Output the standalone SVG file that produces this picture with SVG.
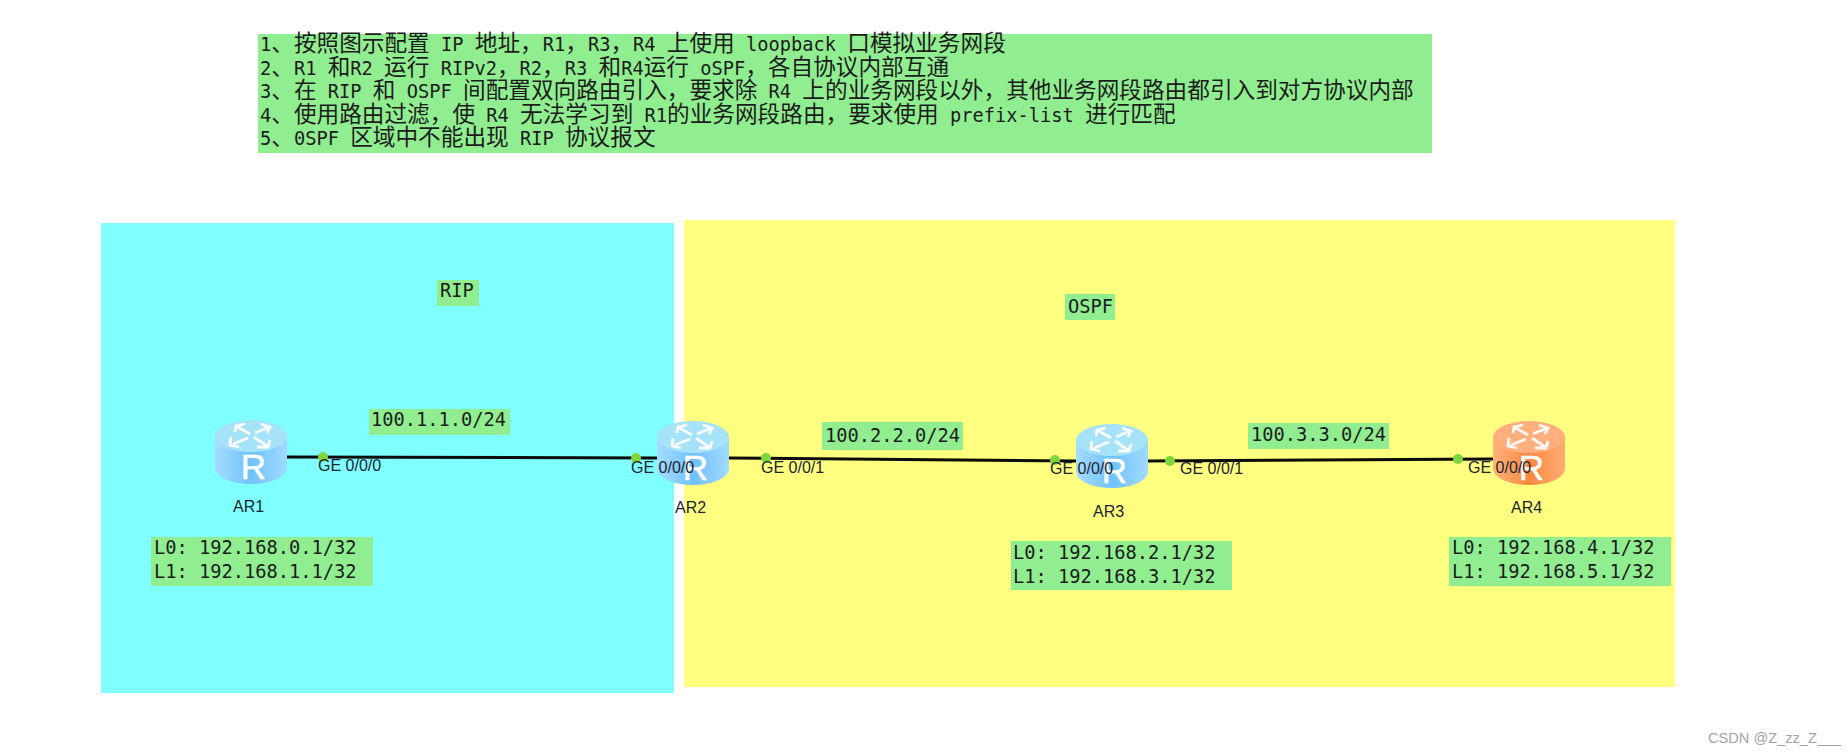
<svg xmlns="http://www.w3.org/2000/svg" width="1846" height="754" viewBox="0 0 1846 754">
<style>
.m{font-family:"DejaVu Sans Mono","Liberation Mono",monospace;fill:#1c1c1c}
.top{font-size:18.7px}
.c{font-family:"Noto Sans CJK SC","DejaVu Sans",sans-serif;font-size:22.65px}
.lb{font-size:18.7px}
.s{font-family:"Liberation Sans",Arial,sans-serif;font-size:16px;fill:#1c2430}
.g{fill:#90ee90}
.dot{fill:#7ed53c}
.lnk{stroke:#0c0c0c;stroke-width:3;fill:none}
.rr{font-family:"Liberation Sans",Arial,sans-serif;font-size:35px;fill:#fff;text-anchor:middle;stroke:#fff;stroke-width:.5}
.wm{font-family:"Liberation Sans",Arial,sans-serif;font-size:14.6px;fill:#a3a3a3}
</style>
<defs>
<linearGradient id="bb" x1="0" x2="1" y1="0" y2="0">
<stop offset="0" stop-color="#a6dcff"/><stop offset="0.5" stop-color="#6fc2fb"/><stop offset="1" stop-color="#a2daff"/>
</linearGradient>
<linearGradient id="ob" x1="0" x2="1" y1="0" y2="0">
<stop offset="0" stop-color="#ffb27c"/><stop offset="0.5" stop-color="#f9893f"/><stop offset="1" stop-color="#ffad74"/>
</linearGradient>
<g id="arrows" fill="none" stroke="#fff" stroke-width="2.8" opacity=".92">
<path d="M21,6 L35,14 M20,12 L21,6 L30,4"/>
<path d="M40,13 L54,7 M46,4 L55,7 L52,13"/>
<path d="M33,18 L18,24 M16,17 L15,25 L24,27"/>
<path d="M39,17 L52,26 M42,27 L53,27 L55,20"/>
</g>
<g id="rb">
<path d="M0,16 V48 A36,16 0 0 0 72,48 V16 Z" fill="url(#bb)"/>
<ellipse cx="36" cy="16" rx="36" ry="16" fill="#a6e2f8"/>
<use href="#arrows"/>
<text class="rr" x="38.5" y="59">R</text>
</g>
<g id="ro">
<path d="M0,16 V48 A36,16 0 0 0 72,48 V16 Z" fill="url(#ob)"/>
<ellipse cx="36" cy="16" rx="36" ry="16" fill="#ffae7e"/>
<use href="#arrows"/>
<text class="rr" x="38.5" y="59">R</text>
</g>
</defs>
<rect width="1846" height="754" fill="#fff"/>
<g id="region-rip"><rect x="101" y="223" width="573" height="470" fill="#80ffff"/></g>
<g id="region-ospf"><rect x="684" y="220" width="991" height="467" fill="#ffff80"/></g>
<g id="task-note">
<rect class="g" x="258" y="34" width="1174" height="119"/>
<text xml:space="preserve" class="m top" x="260" y="51">1<tspan class="c">、按照图示配置</tspan> IP <tspan class="c">地址，</tspan>R1<tspan class="c">，</tspan>R3<tspan class="c">，</tspan>R4 <tspan class="c">上使用</tspan> loopback <tspan class="c">口模拟业务网段</tspan></text>
<text xml:space="preserve" class="m top" x="260" y="75">2<tspan class="c">、</tspan>R1 <tspan class="c">和</tspan>R2 <tspan class="c">运行</tspan> RIPv2<tspan class="c">，</tspan>R2<tspan class="c">，</tspan>R3 <tspan class="c">和</tspan>R4<tspan class="c">运行</tspan> oSPF<tspan class="c">，各自协议内部互通</tspan></text>
<text xml:space="preserve" class="m top" x="260" y="98">3<tspan class="c">、在</tspan> RIP <tspan class="c">和</tspan> OSPF <tspan class="c">间配置双向路由引入，要求除</tspan> R4 <tspan class="c">上的业务网段以外，其他业务网段路由都引入到对方协议内部</tspan></text>
<text xml:space="preserve" class="m top" x="260" y="122">4<tspan class="c">、使用路由过滤，使</tspan> R4 <tspan class="c">无法学习到</tspan> R1<tspan class="c">的业务网段路由，要求使用</tspan> prefix-list <tspan class="c">进行匹配</tspan></text>
<text xml:space="preserve" class="m top" x="260" y="145">5<tspan class="c">、</tspan>0SPF <tspan class="c">区域中不能出现</tspan> RIP <tspan class="c">协议报文</tspan></text>
</g>
<g id="label-rip"><rect class="g" x="437" y="280" width="42" height="26"/><text class="m top" x="440" y="297">RIP</text></g>
<g id="label-ospf"><rect class="g" x="1065" y="294" width="50" height="26"/><text class="m top" x="1068" y="313">OSPF</text></g>
<g id="connectors">
<path class="lnk" d="M287,457 L657,458"/>
<path class="lnk" d="M729,458 L1076,461"/>
<path class="lnk" d="M1147,461 L1493,459"/>
</g>
<g id="AR1"><use href="#rb" x="215" y="420"/><text class="s" x="233" y="512">AR1</text></g>
<g id="AR2"><use href="#rb" x="657" y="421"/><text class="s" x="675" y="513">AR2</text></g>
<g id="AR3"><use href="#rb" x="1076" y="424"/><text class="s" x="1093" y="517">AR3</text></g>
<g id="AR4"><use href="#ro" x="1493" y="421"/><text class="s" x="1511" y="513">AR4</text></g>
<g id="ports">
<circle class="dot" cx="323" cy="457" r="5"/><text class="s" x="318" y="471">GE 0/0/0</text>
<circle class="dot" cx="636" cy="458" r="5"/><text class="s" x="631" y="473">GE 0/0/0</text>
<circle class="dot" cx="766" cy="458" r="5"/><text class="s" x="761" y="473">GE 0/0/1</text>
<circle class="dot" cx="1055" cy="460" r="5"/><text class="s" x="1050" y="474">GE 0/0/0</text>
<circle class="dot" cx="1170" cy="461" r="5"/><text class="s" x="1180" y="474">GE 0/0/1</text>
<circle class="dot" cx="1458" cy="459" r="5"/><text class="s" x="1468" y="473">GE 0/0/0</text>
</g>
<g id="subnet-1"><rect class="g" x="369" y="409" width="141" height="26"/><text class="m lb" x="371" y="426">100.1.1.0/24</text></g>
<g id="subnet-2"><rect class="g" x="822" y="422" width="141" height="28"/><text class="m lb" x="825" y="442">100.2.2.0/24</text></g>
<g id="subnet-3"><rect class="g" x="1248" y="423" width="141" height="26"/><text class="m lb" x="1251" y="441">100.3.3.0/24</text></g>
<g id="loop-ar1"><rect class="g" x="151" y="537" width="222" height="49"/><text class="m lb" x="154" y="554">L0: 192.168.0.1/32</text><text class="m lb" x="154" y="578">L1: 192.168.1.1/32</text></g>
<g id="loop-ar3"><rect class="g" x="1011" y="541" width="221" height="49"/><text class="m lb" x="1013" y="559">L0: 192.168.2.1/32</text><text class="m lb" x="1013" y="583">L1: 192.168.3.1/32</text></g>
<g id="loop-ar4"><rect class="g" x="1449" y="537" width="222" height="49"/><text class="m lb" x="1452" y="554">L0: 192.168.4.1/32</text><text class="m lb" x="1452" y="578">L1: 192.168.5.1/32</text></g>
<text class="wm" x="1708" y="743">CSDN @Z_zz_Z___</text>
</svg>
